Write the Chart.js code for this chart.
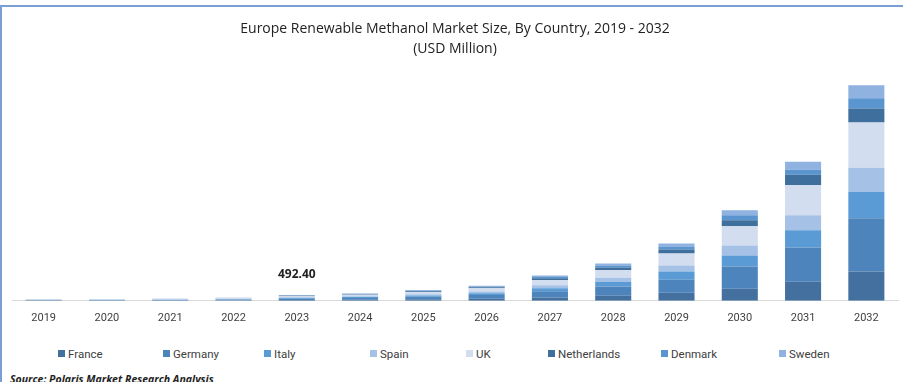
<!DOCTYPE html>
<html>
<head>
<meta charset="utf-8">
<script src="https://cdn.jsdelivr.net/npm/chart.js@4.4.1/dist/chart.umd.min.js"></script>
<style>
  html, body { margin: 0; padding: 0; background: #fff; overflow: hidden; }
  #wrap { position: relative; width: 903px; height: 382px; }
  #frame { position: absolute; left: 0; top: 5px; width: 903px; height: 380px;
           border-top: 2px solid #7b9fd2; border-left: 2px solid #7b9fd2; box-sizing: border-box; }
  #chartBox { position: absolute; left: 0; top: 0; width: 903px; height: 345px; }
  #legend { position: absolute; left: 0; top: 347px; width: 903px; height: 16px;
            font-family: Roboto, sans-serif; font-size: 11.5px; color: #404040; }
  .item { position: absolute; top: 0; white-space: nowrap; }
  .box { display: inline-block; width: 7px; height: 7px; margin-right: 3px; vertical-align: 1px; }
  #source { position: absolute; left: 10px; top: 372px; font-family: "Open Sans", sans-serif;
            font-size: 10.5px; font-weight: bold; font-style: italic; color: #222; }
</style>
</head>
<body>
<div id="wrap">
  <div id="frame"></div>
  <div id="chartBox"><canvas id="marketChart"></canvas></div>
  <div id="legend"></div>
  <div id="source">Source: Polaris Market Research Analysis</div>
</div>
<script>
// Chart data (USD Million)
var years = ['2019', '2020', '2021', '2022', '2023', '2024', '2025', '2026', '2027', '2028', '2029', '2030', '2031', '2032'];
var countries = ['France', 'Germany', 'Italy', 'Spain', 'UK', 'Netherlands', 'Denmark', 'Sweden'];

var france      = [16, 18, 24, 35, 64.0, 85, 125, 176, 292, 432, 691, 1037, 1642, 2506];
var germany     = [29, 32, 43, 64, 118.2, 154, 227, 318, 529, 800, 1123, 1901, 2938, 4579];
var italy       = [15, 16, 21, 32, 59.1, 77, 113, 159, 264, 384, 691, 950, 1469, 2246];
var spain       = [13, 14, 19, 29, 54.2, 69, 102, 143, 238, 352, 518, 864, 1296, 2074];
var uk          = [25, 27, 37, 55, 103.4, 134, 196, 276, 458, 672, 1037, 1642, 2592, 3888];
var netherlands = [8, 9, 12, 18, 34.5, 43, 63, 88, 147, 224, 346, 518, 864, 1210];
var denmark     = [6, 7, 9, 13, 29.5, 32, 46, 65, 108, 160, 259, 432, 432, 864];
var sweden      = [8, 7, 10, 14, 29.5, 36, 53, 75, 124, 176, 259, 432, 691, 1123];

var seriesValues = [france, germany, italy, spain, uk, netherlands, denmark, sweden];
var colors = ['#43709e', '#4e84bc', '#5b9bd5', '#a6c1e6', '#d2ddef', '#3f6f9d', '#5a95d0', '#8fb2e0'];

// highlighted total label
var labelIndex = 4;
var labelText = '492.40';

var datasets = countries.map(function (name, i) {
  return {
    label: name,
    data: seriesValues[i],
    backgroundColor: colors[i],
    borderWidth: 0
  };
});

// draws the "492.40" total above the 2023 bar
var totalLabel = {
  id: 'totalLabel',
  afterDatasetsDraw: function (chart) {
    var ctx = chart.ctx;
    var total = 0;
    seriesValues.forEach(function (s) { total += s[labelIndex]; });
    var x = chart.scales.x.getPixelForValue(labelIndex);
    var y = chart.scales.y.getPixelForValue(total);
    ctx.save();
    ctx.font = 'bold 12px "Open Sans", sans-serif';
    ctx.fillStyle = '#222';
    ctx.textAlign = 'center';
    ctx.textBaseline = 'bottom';
    ctx.fillText(labelText, x, y - 14);
    ctx.restore();
  }
};

var ctx = document.getElementById('marketChart').getContext('2d');
var marketChart = new Chart(ctx, {
  type: 'bar',
  data: { labels: years, datasets: datasets },
  options: {
    responsive: true,
    maintainAspectRatio: false,
    animation: false,
    layout: { padding: { left: 12, right: 5, top: 0, bottom: 17 } },
    datasets: { bar: { categoryPercentage: 1, barPercentage: 0.57 } },
    plugins: {
      legend: { display: false },
      tooltip: { enabled: false },
      title: {
        display: true,
        text: ['Europe Renewable Methanol Market Size, By Country, 2019 - 2032', '(USD Million)'],
        color: '#222',
        font: { family: '"Open Sans", sans-serif', size: 14, weight: 'normal', lineHeight: 1.45 },
        padding: { top: 19, bottom: 8 }
      }
    },
    scales: {
      x: {
        stacked: true,
        grid: { display: false },
        border: { display: true, color: '#d9d9d9', width: 1 },
        ticks: { color: '#404040', font: { family: 'Roboto, sans-serif', size: 11 }, padding: 3 }
      },
      y: {
        stacked: true,
        display: false,
        min: 0,
        max: 20000
      }
    }
  },
  plugins: [totalLabel]
});

// HTML legend built from the series names and colours
var legendX = [62, 167, 268, 374, 470, 552, 665, 783];
var legend = document.getElementById('legend');
countries.forEach(function (name, i) {
  var item = document.createElement('span');
  item.className = 'item';
  item.style.left = (legendX[i] - 4) + 'px';
  var box = document.createElement('span');
  box.className = 'box';
  box.style.background = colors[i];
  item.appendChild(box);
  item.appendChild(document.createTextNode(name));
  legend.appendChild(item);
});
</script>
</body>
</html>
